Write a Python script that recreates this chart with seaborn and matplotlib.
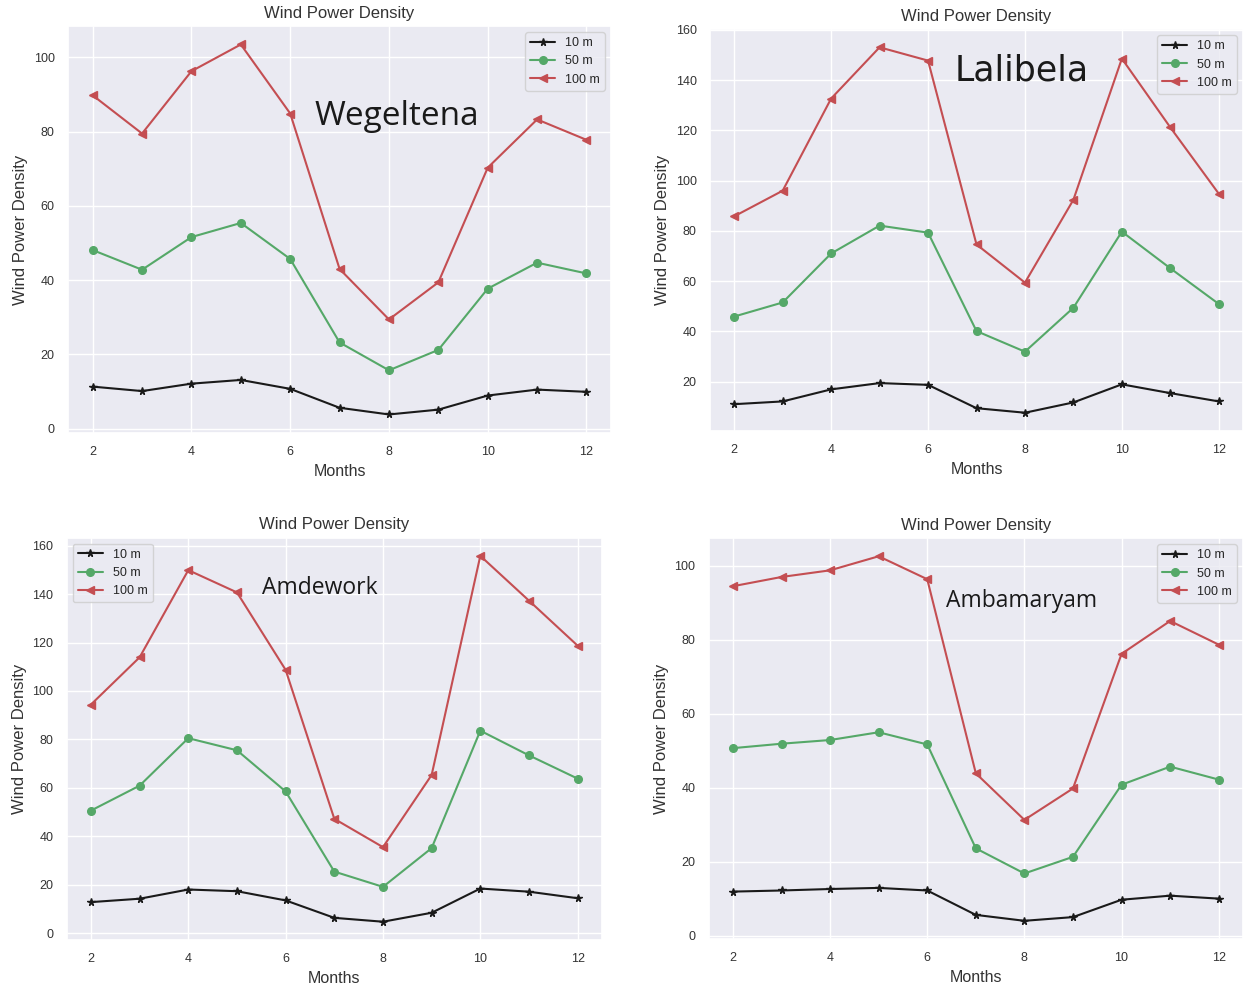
import matplotlib
matplotlib.use("Agg")
import matplotlib.pyplot as plt
import seaborn as sns

# Monthly mean wind power density at three hub heights for four sites
months = [2, 3, 4, 5, 6, 7, 8, 9, 10, 11, 12]

wegeltena_10m = [11.3, 10.1, 12.1, 13.1, 10.7, 5.6, 3.8, 5.1, 8.9, 10.5, 9.9]
wegeltena_50m = [48.1, 42.8, 51.6, 55.4, 45.7, 23.2, 15.7, 21.2, 37.7, 44.7, 41.8]
wegeltena_100m = [89.8, 79.5, 96.3, 103.5, 84.9, 43.0, 29.4, 39.4, 70.3, 83.3, 77.8]

lalibela_10m = [11.0, 12.1, 16.9, 19.4, 18.7, 9.4, 7.6, 11.7, 18.9, 15.4, 12.1]
lalibela_50m = [45.9, 51.5, 71.0, 82.1, 79.3, 40.1, 31.9, 49.4, 79.7, 65.1, 50.9]
lalibela_100m = [85.8, 96.0, 132.7, 153.1, 147.8, 74.6, 59.4, 92.4, 148.6, 121.2, 94.8]

amdework_10m = [12.8, 14.2, 18.0, 17.3, 13.5, 6.3, 4.7, 8.4, 18.4, 17.1, 14.4]
amdework_50m = [50.6, 60.9, 80.5, 75.5, 58.5, 25.4, 19.1, 35.1, 83.6, 73.4, 63.8]
amdework_100m = [94.4, 113.9, 149.9, 140.7, 108.7, 47.2, 35.5, 65.3, 155.8, 137.3, 118.7]

ambamaryam_10m = [11.9, 12.2, 12.6, 12.9, 12.2, 5.6, 4.0, 5.0, 9.7, 10.8, 10.0]
ambamaryam_50m = [50.7, 51.9, 52.9, 55.0, 51.7, 23.6, 16.8, 21.3, 40.8, 45.7, 42.2]
ambamaryam_100m = [94.5, 97.0, 98.8, 102.6, 96.4, 43.9, 31.3, 39.8, 76.2, 85.1, 78.7]

heights = ["10 m", "50 m", "100 m"]
site_names = ["Wegeltena", "Lalibela", "Amdework", "Ambamaryam"]

sns.set_theme(style="darkgrid")
plt.rcParams["font.family"] = ["Liberation Sans", "DejaVu Sans"]

fig = plt.figure(figsize=(12.43, 9.84), dpi=100)

panels = [
    # axes rect, series, legend loc, site label (x, y, font, size)
    dict(rect=[0.0547, 0.5600, 0.4370, 0.4136],
         series=[wegeltena_10m, wegeltena_50m, wegeltena_100m],
         loc="upper right", label_xy=(8.16, 84.2), font="Open Sans", size=24),
    dict(rect=[0.5712, 0.5620, 0.4288, 0.4085],
         series=[lalibela_10m, lalibela_50m, lalibela_100m],
         loc="upper right", label_xy=(7.93, 144.0), font="DejaVu Sans", size=25),
    dict(rect=[0.0536, 0.0447, 0.4307, 0.4090],
         series=[amdework_10m, amdework_50m, amdework_100m],
         loc="upper left", label_xy=(6.70, 142.7), font="Open Sans", size=16.5),
    dict(rect=[0.5701, 0.0457, 0.4299, 0.4075],
         series=[ambamaryam_10m, ambamaryam_50m, ambamaryam_100m],
         loc="upper right", label_xy=(7.94, 90.6), font="Open Sans", size=16.5),
]

styles = [("k", "*"), ("g", "o"), ("r", "<")]

for name, p in zip(site_names, panels):
    ax = fig.add_axes(p["rect"])
    for vals, lab, (col, mk) in zip(p["series"], heights, styles):
        sns.lineplot(x=months, y=vals, ax=ax, color=col, marker=mk,
                     markersize=5.5, markeredgecolor=col, markeredgewidth=1,
                     linewidth=1.5, label=lab)
    ax.set_xticks([2, 4, 6, 8, 10, 12])
    ax.set_title("Wind Power Density", fontsize=12, color="#333333")
    ax.set_xlabel("Months", fontsize=11.5, color="#333333")
    ax.set_ylabel("Wind Power Density", fontsize=12, color="#333333")
    ax.tick_params(labelsize=9, labelcolor="#333333")
    ax.legend(loc=p["loc"], fontsize=9)
    ax.text(p["label_xy"][0], p["label_xy"][1], name, ha="center", va="center",
            fontsize=p["size"], family=p["font"], color="#1a1a1a")

fig.savefig("out.png", dpi=100)
